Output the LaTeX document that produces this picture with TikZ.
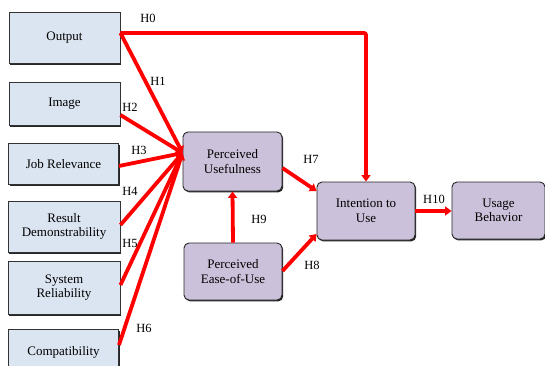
\documentclass[tikz,border=0pt]{standalone}
\usepackage{fontspec}
\setmainfont{Liberation Serif}
\usetikzlibrary{arrows.meta,shadows}
\definecolor{boxblue}{RGB}{219,229,241}
\definecolor{boxlilac}{RGB}{204,193,218}
\begin{document}
\begin{tikzpicture}[x=1pt,y=1pt,
  font=\fontsize{13}{14.5}\selectfont,
  sqbox/.style={draw=black!80,line width=0.9pt,fill=boxblue,align=center,
    inner sep=1pt,drop shadow={shadow xshift=1.4pt,shadow yshift=-1.6pt,fill=black!85,opacity=1}},
  rbox/.style={draw=black!85,line width=0.9pt,fill=boxlilac,rounded corners=5pt,align=center,
    inner sep=1pt,drop shadow={shadow xshift=1.2pt,shadow yshift=-1.4pt,fill=black!85,opacity=1}},
  link/.style={draw=red,line width=3.8pt,-{Triangle[length=6.5pt,width=9pt]}},
  hlab/.style={inner sep=0pt,font=\fontsize{12.5}{14}\selectfont}]
\useasboundingbox (0,0) rectangle (545,-366);
\clip (0,0) rectangle (545,-366);

% antecedent constructs
\node[sqbox,minimum width=111pt,minimum height=51pt] (out) at (64.5,-37.5) {Output};
\node[sqbox,minimum width=111pt,minimum height=43pt] (img) at (64.5,-103.5) {Image};
\node[sqbox,minimum width=110pt,minimum height=41pt] (job) at (63.5,-164) {Job Relevance};
\node[sqbox,minimum width=112pt,minimum height=51pt] (res) at (64,-226.5) {Result\\Demonstrability};
\node[sqbox,minimum width=112pt,minimum height=53pt] (sys) at (64,-287.5) {System\\Reliability};
\node[sqbox,minimum width=110pt,minimum height=46pt] (com) at (63.5,-352) {Compatibility};

% TAM core
\node[rbox,minimum width=99pt,minimum height=59pt] (pu) at (232.5,-161.5) {Perceived\\Usefulness};
\node[rbox,minimum width=98pt,minimum height=57pt] (peou) at (233,-271.5) {Perceived\\Ease-of-Use};
\node[rbox,minimum width=98pt,minimum height=58pt] (itu) at (366,-211) {Intention to\\Use};
\node[rbox,minimum width=93pt,minimum height=57pt] (ub) at (498.5,-210.5) {Usage\\Behavior};

% anchor points
\coordinate (hub) at (pu.west |- 0,-153);
\coordinate (corner) at (itu.north |- 0,-33);
\coordinate (outR) at (out.east |- 0,-33);

% hypothesised paths
\draw[link,rounded corners=2pt] (outR) -- (corner) -- (itu.north);
\draw[link] (outR) -- (hub);
\draw[link] (img.east |- 0,-115) -- (hub);
\draw[link] (job.east |- 0,-166) -- (hub);
\draw[link] (res.east |- 0,-225) -- (hub);
\draw[link] (sys.east |- 0,-285) -- (hub);
\draw[link] (com.east |- 0,-345) -- (hub);
\draw[link] (pu.east |- 0,-168) -- (itu.west |- 0,-191);
\draw[link] (peou.east |- 0,-271) -- (itu.west |- 0,-234);
\draw[link] (peou.north) -- (pu.south);
\draw[link] (itu.east) -- (ub.west |- itu.east);

% path labels
\node[hlab] (l0) at (148,-18) {H0};
\node[hlab] (l1) at (158,-81) {H1};
\node[hlab] (l2) at (130,-107) {H2};
\node[hlab] (l3) at (139,-150) {H3};
\node[hlab] (l4) at (130,-191) {H4};
\node[hlab] (l5) at (130,-243) {H5};
\node[hlab] (l6) at (144,-328) {H6};
\node[hlab] (l7) at (311,-159) {H7};
\node[hlab] (l8) at (312,-265) {H8};
\node[hlab] (l9) at (259,-219) {H9};
\node[hlab] (l10) at (434,-199) {H10};
\end{tikzpicture}
\end{document}
